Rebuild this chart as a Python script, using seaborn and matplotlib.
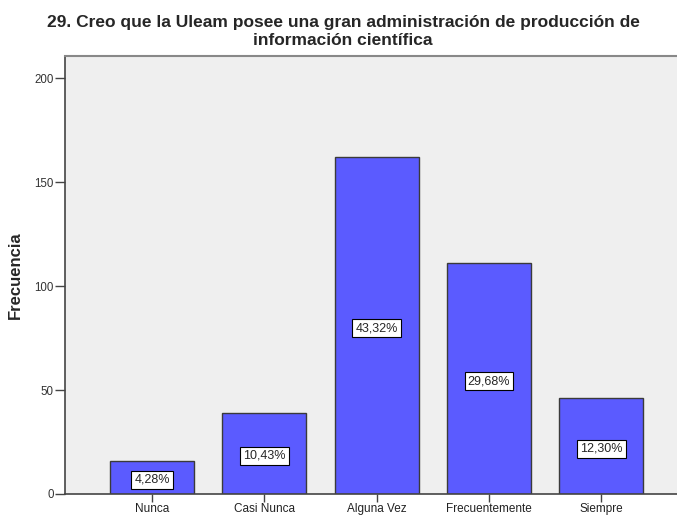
import matplotlib
matplotlib.use("Agg")
import matplotlib.pyplot as plt
import seaborn as sns
import pandas as pd

categories = ["Nunca", "Casi Nunca", "Alguna Vez", "Frecuentemente", "Siempre"]
counts = [16, 39, 162, 111, 46]
pct_labels = ["4,28%", "10,43%", "43,32%", "29,68%", "12,30%"]
yticks = [0, 50, 100, 150, 200]
title_lines = ["29. Creo que la Uleam posee una gran administración de producción de",
               "información científica"]

sns.set_style("white")
plt.rcParams['font.family'] = ['Liberation Sans', 'DejaVu Sans']

df = pd.DataFrame({"cat": categories, "n": counts})

fig = plt.figure(figsize=(6.77, 5.15), dpi=100)
ax = fig.add_axes([65/677, 21/515, 1 - 65/677, 438/515])
ax.set_facecolor("#EFEFEF")

sns.barplot(data=df, x="cat", y="n", order=categories, color="#5B5BFF",
            saturation=1, width=0.75, edgecolor="#3a3a3a", linewidth=1.0, ax=ax)

for i, (c, lab) in enumerate(zip(counts, pct_labels)):
    ax.text(i, c / 2 - 1.2, lab, ha="center", va="center", fontsize=9,
            bbox=dict(boxstyle="square,pad=0.25", fc="white", ec="black", lw=0.8))

ax.set_xlim(-0.775, 4.675)
ax.set_ylim(0, 210.6)
ax.set_yticks(yticks)
ax.set_yticklabels([str(t) for t in yticks], fontsize=8.3, color="#333333")
ax.tick_params(axis="x", labelsize=8.5, length=6, width=1, color="#444444", pad=0.5, labelcolor="#222222")
ax.tick_params(axis="y", length=7, width=1, color="#444444", pad=1, left=True)
ax.tick_params(axis="x", bottom=True)
ax.set_xlabel("")
ax.set_ylabel("Frecuencia", fontsize=12, fontweight="bold")
ax.yaxis.set_label_coords(-0.0686, 0.5)

for s in ["left", "bottom"]:
    ax.spines[s].set_color("#444444")
    ax.spines[s].set_linewidth(1.2)
ax.spines["top"].set_color("#888888")
ax.spines["top"].set_linewidth(1.5)
ax.spines["right"].set_visible(False)

fig.text(343/677, 1 - 27/515, title_lines[0], ha="center", va="baseline",
         fontsize=12.5, fontweight="bold")
fig.text(343/677, 1 - 45/515, title_lines[1], ha="center", va="baseline",
         fontsize=12.5, fontweight="bold")

fig.savefig("out.png", dpi=100)
